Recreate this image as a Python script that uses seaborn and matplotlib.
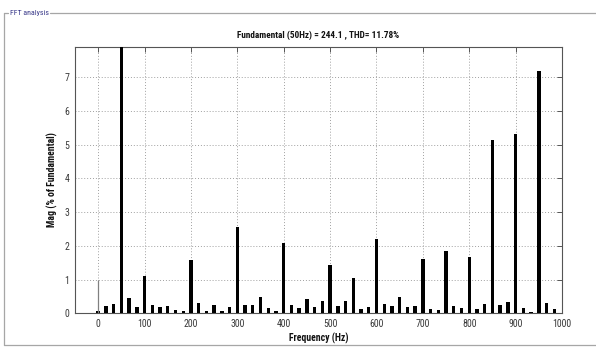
import numpy as np
import pandas as pd
import seaborn as sns
import matplotlib.pyplot as plt
from matplotlib import font_manager as fm
from matplotlib.lines import Line2D

# Spectrum bins every 50/3 Hz, magnitudes in % of the fundamental
harmonic_index = list(range(0, 61))
magnitude = [
    0.06, 0.23, 0.29, 100.0, 0.44, 0.19, 1.11, 0.24, 0.19, 0.21,
    0.09, 0.06, 1.59, 0.31, 0.06, 0.24, 0.06, 0.19, 2.57, 0.26,
    0.24, 0.48, 0.17, 0.06, 2.07, 0.26, 0.15, 0.41, 0.19, 0.35,
    1.44, 0.21, 0.35, 1.06, 0.12, 0.19, 2.20, 0.28, 0.21, 0.48,
    0.19, 0.21, 1.60, 0.12, 0.09, 1.84, 0.21, 0.17, 1.68, 0.14,
    0.28, 5.14, 0.25, 0.33, 5.31, 0.17, 0.04, 7.17, 0.31, 0.12,
    0.0,
]
dc_level = 1.0
x_ticks = [0, 100, 200, 300, 400, 500, 600, 700, 800, 900, 1000]
y_ticks = [0, 1, 2, 3, 4, 5, 6, 7]
title_text = "Fundamental (50Hz) = 244.1 , THD= 11.78%"

freq = [k * 50.0 / 3.0 for k in harmonic_index]
df = pd.DataFrame({"freq": freq, "mag": magnitude})

sns.set_theme(style="white")

# pick a narrow face if one is available
entries = fm.fontManager.ttflist
names = {f.name for f in entries}
stretch = "normal"
if "Liberation Sans Narrow" in names:
    family, scale = "Liberation Sans Narrow", 1.0
elif "Roboto Condensed" in names:
    family, scale = "Roboto Condensed", 0.95
elif any(f.name == "DejaVu Sans" and str(f.stretch) in ("condensed", "semi-condensed")
         for f in entries):
    family, scale, stretch = "DejaVu Sans", 0.85, "condensed"
else:
    family, scale = "Liberation Sans", 0.88
plt.rcParams["font.family"] = [family, "DejaVu Sans"]
plt.rcParams["font.stretch"] = stretch

fig = plt.figure(figsize=(5.96, 3.47), dpi=100)
fig.patch.set_facecolor("white")

# group box around the panel
W, H = 596.0, 347.0
box_color = "#a6a6a6"
fig.add_artist(Line2D([4 / W, 4 / W], [1 - 13 / H, 1 - 345 / H], color=box_color, lw=0.9))
fig.add_artist(Line2D([4 / W, 596 / W], [1 - 345 / H, 1 - 345 / H], color=box_color, lw=0.9))
fig.add_artist(Line2D([4 / W, 8 / W], [1 - 13 / H, 1 - 13 / H], color=box_color, lw=0.9))
fig.add_artist(Line2D([50 / W, 596 / W], [1 - 13 / H, 1 - 13 / H], color=box_color, lw=0.9))
fig.text(10 / W, 1 - 13 / H, "FFT analysis", fontsize=6.0 * scale, color="#3a3a8a",
         va="center", ha="left")

ax = fig.add_axes([75 / W, 1 - 313.3 / H, (562 - 75) / W, (313.3 - 46.7) / H])
ax.set_facecolor("white")

sns.barplot(data=df, x="freq", y="mag", native_scale=True, width=0.44,
            color="black", edgecolor="black", linewidth=0, ax=ax, zorder=3)
ax.vlines(freq[0], 0, dc_level, color="#808080", lw=0.9, zorder=3)

ax.set_xlim(-50, 1000)
ax.set_ylim(0, 7.9)
ax.set_xticks(x_ticks)
ax.set_yticks(y_ticks)
ax.set_xticklabels([str(t) for t in x_ticks])
ax.set_yticklabels([str(t) for t in y_ticks])

ax.grid(True, which="major", linestyle=(0, (1, 2)), color="#a0a0a0", lw=0.7, zorder=0)
ax.tick_params(axis="both", which="major", direction="in", length=3.5, width=0.7,
               colors="#555555", labelcolor="#3a3a3a", labelsize=7.5 * scale,
               top=True, right=True, pad=4)
for s in ax.spines.values():
    s.set_color("#555555")
    s.set_linewidth(0.8)

ax.set_title(title_text, fontsize=7.0 * scale, fontweight="bold", pad=6, color="#111111")
ax.set_xlabel("Frequency (Hz)", fontsize=7.4 * scale, fontweight="bold", labelpad=3,
              color="#111111")
ax.set_ylabel("Mag (% of Fundamental)", fontsize=7.4 * scale, fontweight="bold",
              labelpad=5, color="#111111")

fig.savefig("out.png", dpi=100, facecolor="white")
